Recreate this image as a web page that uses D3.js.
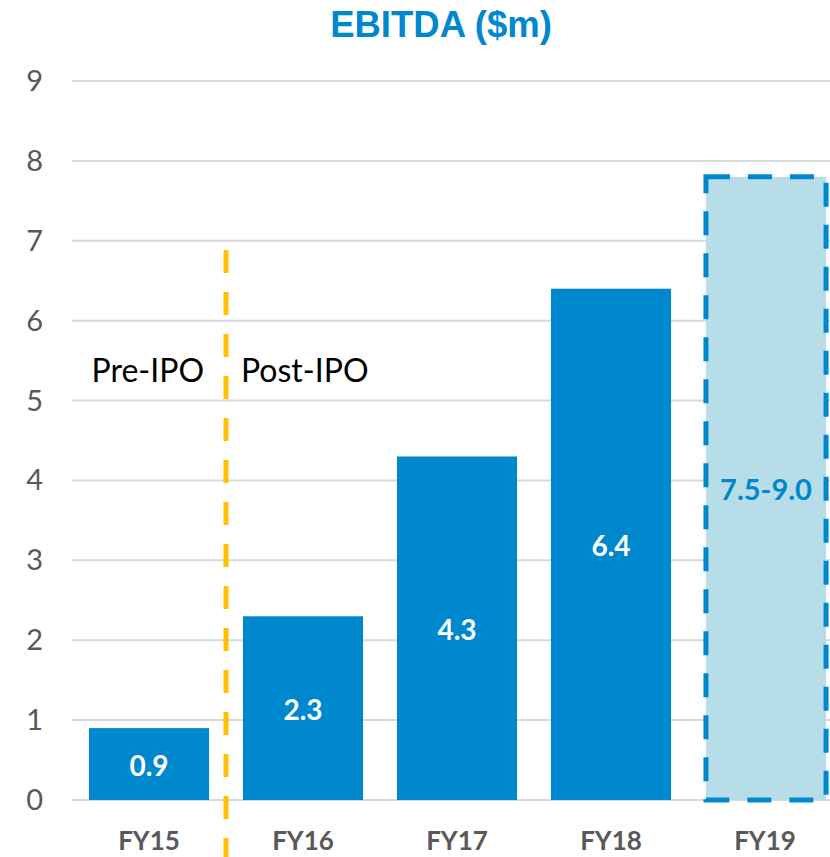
<!DOCTYPE html>
<html><head><meta charset="utf-8">
<script src="https://cdn.jsdelivr.net/npm/d3@7"></script>
<style>body{margin:0;background:#fff}svg{display:block}</style>
</head><body>
<svg id="c" width="830" height="857"></svg>
<script>
const categories = ["FY15","FY16","FY17","FY18","FY19"];
const values = [0.9, 2.3, 4.3, 6.4, 7.8];
const labels = ["0.9","2.3","4.3","6.4","7.5-9.0"];
const forecast = [false,false,false,false,true];
const yTicks = [0,1,2,3,4,5,6,7,8,9];
const title = "EBITDA ($m)";
const regionLabels = ["Pre-IPO","Post-IPO"];

const svg = d3.select("#c");
const blue = "#0088CF";
const x = d3.scaleBand().domain(categories).range([72, 842]).paddingInner(0.22).paddingOuter(0.11);
const y = d3.scaleLinear().domain([0, 9]).range([800, 81]);

svg.append("text").attr("x", 441).attr("y", 37).attr("text-anchor","middle")
  .attr("font-family","Liberation Sans, Arial, sans-serif").attr("font-weight","bold")
  .attr("font-size", 36.5).attr("fill", blue).text(title);

// gridlines
svg.append("g").selectAll("line").data(yTicks).join("line")
  .attr("x1", 72).attr("x2", 830).attr("y1", d=>y(d)).attr("y2", d=>y(d))
  .attr("stroke","#d9d9d9").attr("stroke-width",2);

// y axis labels
svg.append("g").selectAll("text").data(yTicks).join("text")
  .attr("x", 43).attr("y", d=>y(d)+10).attr("text-anchor","end")
  .attr("font-family","Lato, sans-serif").attr("font-size",29).attr("fill","#595959")
  .text(d=>d);

const data = categories.map((c,i)=>({c, v:values[i], l:labels[i], f:forecast[i]}));

// solid bars
svg.append("g").selectAll("rect").data(data.filter(d=>!d.f)).join("rect")
  .attr("x", d=>x(d.c)).attr("width", x.bandwidth())
  .attr("y", d=>y(d.v)).attr("height", d=>y(0)-y(d.v)).attr("fill", blue);

// forecast bar
const fd = data.filter(d=>d.f);
svg.append("g").selectAll("rect").data(fd).join("rect")
  .attr("x", d=>x(d.c)+1).attr("width", x.bandwidth())
  .attr("y", d=>y(d.v)).attr("height", d=>y(0)-y(d.v))
  .attr("fill","#B7DDE8").attr("stroke", blue).attr("stroke-width",5)
  .attr("stroke-dasharray","24,18");

// bar labels
svg.append("g").selectAll("text").data(data).join("text")
  .attr("x", d=>x(d.c)+x.bandwidth()/2+(d.f?1:0))
  .attr("y", d=>(y(d.v)+y(0))/2+12)
  .attr("text-anchor","middle").attr("font-family","Lato, sans-serif").attr("font-weight","bold")
  .attr("font-size", d=>d.f?29:28).attr("fill", d=>d.f?blue:"#fff").text(d=>d.l);

// x labels
svg.append("g").selectAll("text").data(categories).join("text")
  .attr("x", d=>x(d)+x.bandwidth()/2).attr("y", 850)
  .attr("text-anchor","middle").attr("font-family","Lato, sans-serif").attr("font-weight","bold")
  .attr("font-size",26).attr("fill","#595959").text(d=>d);

// IPO divider
const divX = (x("FY15")+x.bandwidth()+x("FY16"))/2;
svg.append("line").attr("x1", divX).attr("x2", divX).attr("y1", 250).attr("y2", 857)
  .attr("stroke","#FFC000").attr("stroke-width",5).attr("stroke-dasharray","23,19");

svg.append("g").selectAll("text").data(regionLabels).join("text")
  .attr("x",(d,i)=> i===0 ? divX-22 : divX+15).attr("y", 382)
  .attr("text-anchor",(d,i)=> i===0 ? "end" : "start")
  .attr("font-family","Lato, sans-serif").attr("font-size",32).attr("fill","#000").text(d=>d);
</script>
</body></html>
